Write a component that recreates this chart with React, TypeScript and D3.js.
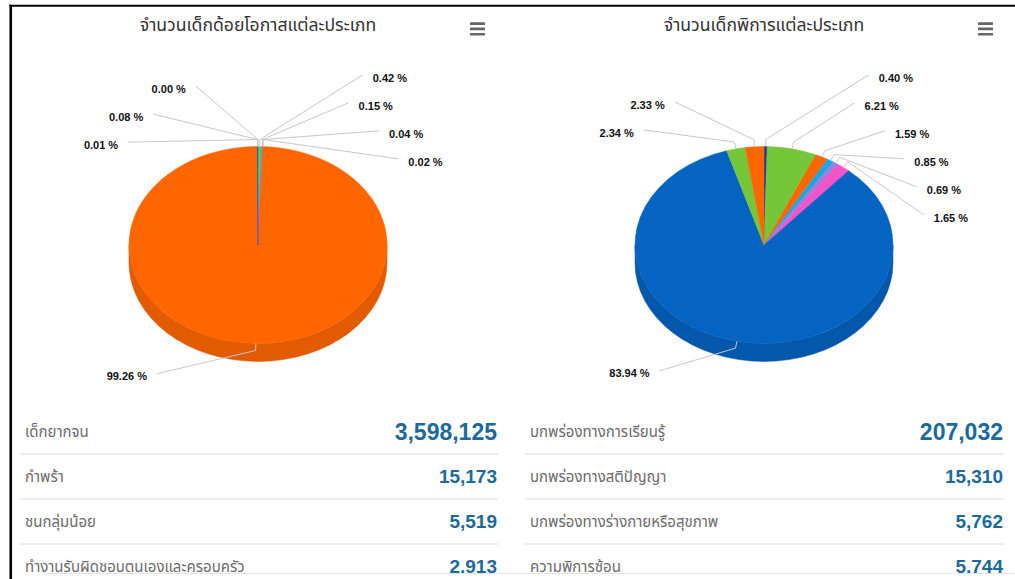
import React from 'react';
import * as d3 from 'd3';

// ---------- data ----------
const leftTitle = 'จำนวนเด็กด้อยโอกาสแต่ละประเภท';
const rightTitle = 'จำนวนเด็กพิการแต่ละประเภท';

// pie slices in drawing order (clockwise from the top), percentages
const leftPiePercents = [0.42, 0.15, 0.04, 0.02, 99.26, 0.01, 0.08, 0.0];
const leftPieColors = ['#76C63A', '#17A9E6', '#9B7DDB', '#F653C9', '#FF6600', '#F653C9', '#0563C1', '#1F3C99'];

const rightPiePercents = [0.4, 6.21, 1.59, 0.85, 0.69, 1.65, 83.94, 2.34, 2.33];
const rightPieColors = ['#1F3C99', '#76C63A', '#FF6600', '#17A9E6', '#9B7DDB', '#F653C9', '#0563C1', '#76C63A', '#FF6600'];

const leftCategories = ['เด็กยากจน', 'กำพร้า', 'ชนกลุ่มน้อย', 'ทำงานรับผิดชอบตนเองและครอบครัว'];
const leftCounts = [3598125, 15173, 5519, 2913];

const rightCategories = ['บกพร่องทางการเรียนรู้', 'บกพร่องทางสติปัญญา', 'บกพร่องทางร่างกายหรือสุขภาพ', 'ความพิการซ้อน'];
const rightCounts = [207032, 15310, 5762, 5744];

// ---------- layout ----------
const W = 1015;
const H = 579;
const LEFT_CX = 258;
const RIGHT_CX = 764;
const CY = 245;
const RX = 129;
const RY = 98.5;
const DEPTH = 18;
const LABEL_R = 172;
const K_TOP = 0.745;
const K_BOTTOM = 0.764;
const LABEL_STEP = 28;
const LABEL_MIN_Y = 77.5;
const LABEL_MAX_Y = 420;

const THAI_FONT = "'Noto Sans Thai', 'Noto Sans', 'Open Sans', sans-serif";
const LABEL_FONT = "'Liberation Sans', Arial, sans-serif";

const pt = (cx: number, th: number, r = 0, dz = 0): [number, number] => [
  cx + (RX + r) * Math.sin(th),
  CY - (RY + r) * Math.cos(th) + dz,
];

function topPath(cx: number, a0: number, a1: number) {
  const p0 = pt(cx, a0);
  const p1 = pt(cx, a1);
  const large = a1 - a0 > Math.PI ? 1 : 0;
  return `M${cx},${CY}L${p0[0]},${p0[1]}A${RX},${RY} 0 ${large} 1 ${p1[0]},${p1[1]}Z`;
}

function sidePath(cx: number, a0: number, a1: number) {
  const b0 = Math.max(a0, Math.PI / 2);
  const b1 = Math.min(a1, (3 * Math.PI) / 2);
  if (b1 <= b0) return null;
  const p0 = pt(cx, b0);
  const p1 = pt(cx, b1);
  return `M${p0[0]},${p0[1]}A${RX},${RY} 0 0 1 ${p1[0]},${p1[1]}L${p1[0]},${p1[1] + DEPTH}A${RX},${RY} 0 0 0 ${p0[0]},${p0[1] + DEPTH}Z`;
}

function distribute(targets: number[], step: number, minY: number, maxY: number): number[] {
  type Cl = { idx: number[]; pos: number };
  const clusters: Cl[] = targets.map((t, i) => ({ idx: [i], pos: t }));
  const place = (c: Cl) => {
    const n = c.idx.length;
    const mean = d3.mean(c.idx.map((i, j) => targets[i] - j * step)) as number;
    c.pos = Math.max(minY, Math.min(maxY - (n - 1) * step, mean));
  };
  clusters.forEach(place);
  let merged = true;
  while (merged) {
    merged = false;
    for (let i = 0; i < clusters.length - 1; i++) {
      const a = clusters[i];
      const b = clusters[i + 1];
      if (b.pos < a.pos + a.idx.length * step) {
        a.idx = a.idx.concat(b.idx);
        clusters.splice(i + 1, 1);
        place(a);
        merged = true;
        break;
      }
    }
  }
  const out: number[] = [];
  clusters.forEach((c) => c.idx.forEach((i, j) => (out[i] = c.pos + j * step)));
  return out;
}

function Pie3D({ cx, values, colors }: { cx: number; values: number[]; colors: string[] }) {
  const arcs = d3
    .pie<number>()
    .sort(null)
    .value((d) => d)
    .startAngle(0)
    .endAngle(2 * Math.PI)(values);

  type L = { i: number; th: number; side: number; natural: number; y?: number };
  const labels: L[] = arcs.map((a, i) => {
    const th = (a.startAngle + a.endAngle) / 2;
    const c = Math.cos(th);
    const side = Math.sin(th) >= 0 ? 1 : -1;
    const natural = CY - c * LABEL_R * (c > 0 ? K_TOP : K_BOTTOM);
    return { i, th, side, natural };
  });

  [1, -1].forEach((side) => {
    const group = labels
      .filter((l) => l.side === side)
      .sort((a, b) => a.natural - b.natural || (side === 1 ? a.th - b.th : b.th - a.th));
    const ys = distribute(group.map((g) => g.natural), LABEL_STEP, LABEL_MIN_Y, LABEL_MAX_Y);
    group.forEach((g, k) => (g.y = ys[k]));
  });

  return (
    <g>
      {arcs.map((a, i) => {
        const d = sidePath(cx, a.startAngle, a.endAngle);
        if (!d) return null;
        const c = d3.color(colors[i])!.darker(0.33).toString();
        return <path key={'s' + i} d={d} fill={c} stroke={c} strokeWidth={0.5} />;
      })}
      {arcs.map((a, i) =>
        a.endAngle - a.startAngle < 1e-7 ? null : (
          <path key={'t' + i} d={topPath(cx, a.startAngle, a.endAngle)} fill={colors[i]} stroke={colors[i]} strokeWidth={0.5} strokeLinejoin="round" />
        )
      )}
      {labels.map((l) => {
        const y = l.y as number;
        const dy = y - CY;
        const off = Math.abs(dy) > 0.95 * LABEL_R ? LABEL_R * 0.667 : Math.sqrt(LABEL_R * LABEL_R - dy * dy);
        const tx = cx + l.side * off;
        const lx = tx - l.side * 10;
        const A = pt(cx, l.th, 0);
        const B = pt(cx, l.th, 7);
        return (
          <g key={'l' + l.i}>
            <path d={`M${lx},${y - 2.7}L${B[0]},${B[1]}L${A[0]},${A[1]}`} fill="none" stroke="#c8c8c8" strokeWidth={1} />
            <text
              x={tx}
              y={y + 4}
              textAnchor={l.side === 1 ? 'start' : 'end'}
              fontFamily={LABEL_FONT}
              fontSize={11}
              fontWeight="bold"
              fill="#111"
              stroke="#fff"
              strokeWidth={2}
              paintOrder="stroke"
            >
              {values[l.i].toFixed(2) + ' %'}
            </text>
          </g>
        );
      })}
    </g>
  );
}

function Table({ x0, x1, cats, counts }: { x0: number; x1: number; cats: string[]; counts: number[] }) {
  const rowY = d3.scalePoint<number>().domain(d3.range(cats.length)).range([431.5, 566.5]);
  const fmt = d3.format(',');
  return (
    <g>
      {cats.map((c, i) => {
        const y = rowY(i) as number;
        const fs = i === 0 ? 23 : 19;
        return (
          <g key={i}>
            <text x={x0 + 5} y={y + 5} fontFamily={THAI_FONT} fontSize={15} fill="#6b6b6b">
              {c}
            </text>
            <text x={x1 - 1} y={y + fs * 0.36} textAnchor="end" fontFamily={LABEL_FONT} fontWeight="bold" fontSize={fs} fill="#1b6a9b">
              {fmt(counts[i])}
            </text>
            {i < cats.length - 1 && (
              <line x1={x0} x2={x1} y1={y + 22.5} y2={y + 22.5} stroke="#dcdcdc" strokeWidth={1} />
            )}
          </g>
        );
      })}
    </g>
  );
}

function Burger({ x, y }: { x: number; y: number }) {
  return (
    <g fill="#666">
      {[0, 5.3, 10.6].map((d) => (
        <rect key={d} x={x} y={y + d} width={15} height={2.7} rx={0.5} />
      ))}
    </g>
  );
}

export default function App() {
  return (
    <svg
      width={W}
      height={H}
      viewBox={`0 0 ${W} ${H}`}
      style={{ position: 'absolute', left: 0, top: 0, display: 'block', background: '#fff' }}
    >
      <rect x={0} y={0} width={W} height={H} fill="#fff" />
      <text x={LEFT_CX} y={31} textAnchor="middle" fontFamily={THAI_FONT} fontSize={17.6} fill="#333">
        {leftTitle}
      </text>
      <text x={RIGHT_CX} y={31} textAnchor="middle" fontFamily={THAI_FONT} fontSize={17.6} fill="#333">
        {rightTitle}
      </text>
      <Burger x={470} y={22.3} />
      <Burger x={978} y={22.3} />

      <Pie3D cx={LEFT_CX} values={leftPiePercents} colors={leftPieColors} />
      <Pie3D cx={RIGHT_CX} values={rightPiePercents} colors={rightPieColors} />

      <Table x0={20} x1={498} cats={leftCategories} counts={leftCounts} />
      <Table x0={525} x1={1004} cats={rightCategories} counts={rightCounts} />

      <rect x={48} y={573} width={W - 48} height={H - 573} fill="#fff" />
      <line x1={48} x2={W} y1={573.5} y2={573.5} stroke="#e4e4e4" strokeWidth={1} />

      <line x1={10.75} x2={10.75} y1={4.7} y2={H} stroke="#000" strokeWidth={2.6} />
      <line x1={9.5} x2={W} y1={5.8} y2={5.8} stroke="#000" strokeWidth={2} />
    </svg>
  );
}
